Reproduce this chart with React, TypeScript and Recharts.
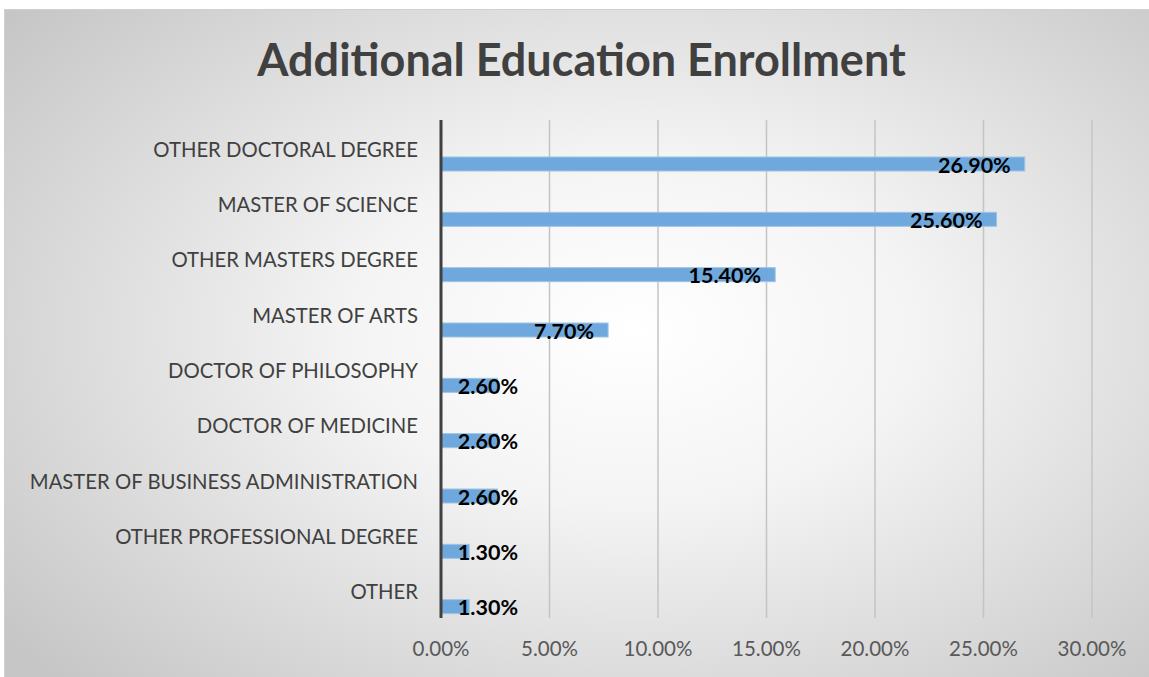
import React from "react";
import { Bar, BarChart, CartesianGrid, LabelList, XAxis, YAxis } from "recharts";

const categories = [
  "OTHER DOCTORAL DEGREE",
  "MASTER OF SCIENCE",
  "OTHER MASTERS DEGREE",
  "MASTER OF ARTS",
  "DOCTOR OF PHILOSOPHY",
  "DOCTOR OF MEDICINE",
  "MASTER OF BUSINESS ADMINISTRATION",
  "OTHER PROFESSIONAL DEGREE",
  "OTHER",
];

const enrollment = [26.9, 25.6, 15.4, 7.7, 2.6, 2.6, 2.6, 1.3, 1.3];

const xTicks = [0, 5, 10, 15, 20, 25, 30];

const data = categories.map((name, i) => ({ name, value: enrollment[i] }));

const FONT = "Lato, 'Open Sans', sans-serif";

const fmt = (v: number) => `${v.toFixed(2)}%`;

function CategoryTick(props: any) {
  const { x, y, payload } = props;
  return (
    <text x={x - 15} y={y + 2} dy="0.35em" textAnchor="end" fill="#404040" fontSize={20.3} fontFamily={FONT}>
      {payload.value}
    </text>
  );
}

function ShiftedBar(props: any) {
  const { x, y, width, height } = props;
  return (
    <rect
      x={x}
      y={y + 16}
      width={Math.max(width, 0)}
      height={height}
      fill="#6fa8dc"
      stroke="#9dc3e6"
      strokeWidth={1}
    />
  );
}

function ValueLabel(props: any) {
  const { x, y, width, height, value } = props;
  const text = fmt(value);
  const approx = text.length * 12.2;
  const end = Math.max(x + width - 14, x + 16 + approx);
  return (
    <text
      x={end}
      y={y + height / 2 + 17}
      dy="0.35em"
      textAnchor="end"
      fill="#000000"
      fontSize={21.5}
      fontWeight={700}
      fontFamily={FONT}
    >
      {text}
    </text>
  );
}

export default function App() {
  return (
    <div
      style={{
        position: "absolute",
        left: 4,
        top: 9,
        width: 1145,
        height: 668,
        background: "radial-gradient(ellipse 70% 75% at 55% 48%, #ffffff 0%, #f4f4f4 35%, #c6c6c6 100%)",
        borderTop: "1px solid #d0d0d0",
        borderLeft: "1px solid #d0d0d0",
        boxSizing: "border-box",
        fontFamily: FONT,
      }}
    >
      <div
        style={{
          position: "absolute",
          left: 0,
          width: 1153,
          top: 22,
          textAlign: "center",
          fontSize: 45,
          fontWeight: 700,
          color: "#404040",
          fontFamily: FONT,
          whiteSpace: "nowrap",
        }}
      >
        Additional Education Enrollment
      </div>
      <BarChart
        width={1145}
        height={668}
        data={data}
        layout="vertical"
        margin={{ top: 111, right: 57, left: 0, bottom: 19 }}
        style={{ position: "absolute", left: -1, top: -1 }}
      >
        <CartesianGrid horizontal={false} vertical stroke="#c4c4c4" strokeWidth={1.5} />
        <XAxis
          type="number"
          domain={[0, 30]}
          ticks={xTicks}
          tickFormatter={fmt}
          axisLine={false}
          tickLine={false}
          tick={{ fill: "#595959", fontSize: 20.5, fontFamily: FONT }}
          height={40}
          dy={15}
        />
        <YAxis
          type="category"
          dataKey="name"
          width={437}
          tick={<CategoryTick />}
          tickLine={false}
          axisLine={{ stroke: "#404040", strokeWidth: 3 }}
          interval={0}
        />
        <Bar dataKey="value" barSize={14} shape={<ShiftedBar />} isAnimationActive={false}>
          <LabelList dataKey="value" content={<ValueLabel />} />
        </Bar>
      </BarChart>
    </div>
  );
}
